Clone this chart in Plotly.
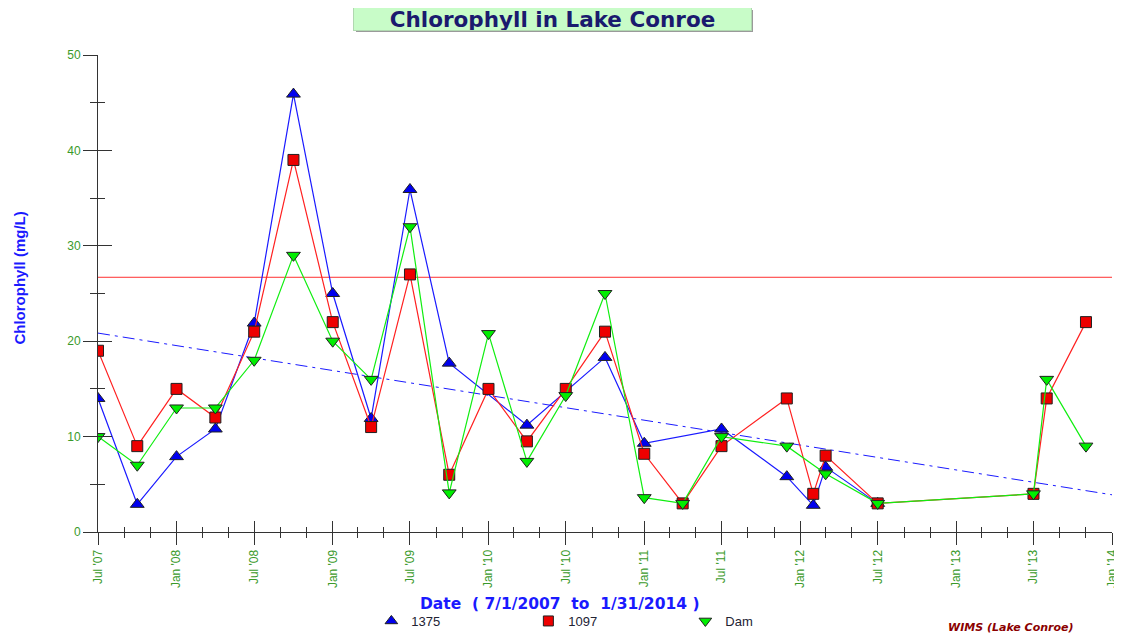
import plotly.graph_objects as go

# ---------------- data ----------------
dates_1375 = ["2007-07-01", "2007-10-01", "2008-01-01", "2008-04-01", "2008-07-01",
              "2008-10-01", "2009-01-01", "2009-04-01", "2009-07-01", "2009-10-01",
              "2010-04-01", "2010-10-01", "2011-01-01", "2011-07-01",
              "2011-12-01", "2012-02-01", "2012-03-01", "2012-07-01"]
vals_1375 = [14, 2.9, 7.9, 10.8, 21.9, 45.9, 25, 11.9, 35.9, 17.7,
             11.2, 18.3, 9.3, 10.8, 5.8, 2.8, 6.8, 3]

dates_1097 = ["2007-07-01", "2007-10-01", "2008-01-01", "2008-04-01", "2008-07-01",
              "2008-10-01", "2009-01-01", "2009-04-01", "2009-07-01", "2009-10-01",
              "2010-01-01", "2010-04-01", "2010-07-01", "2010-10-01", "2011-01-01",
              "2011-04-01", "2011-07-01", "2011-12-01", "2012-02-01", "2012-03-01",
              "2012-07-01", "2013-07-01", "2013-08-01", "2013-11-01"]
vals_1097 = [19, 9, 15, 12, 21, 39, 22, 11, 27, 6,
             15, 9.5, 15, 21, 8.2, 3, 9, 14, 4, 8,
             3, 4, 14, 22]

dates_dam = ["2007-07-01", "2007-10-01", "2008-01-01", "2008-04-01", "2008-07-01",
             "2008-10-01", "2009-01-01", "2009-04-01", "2009-07-01", "2009-10-01",
             "2010-01-01", "2010-04-01", "2010-07-01", "2010-10-01", "2011-01-01",
             "2011-04-01", "2011-07-01", "2011-12-01", "2012-03-01", "2012-07-01",
             "2013-07-01", "2013-08-01", "2013-11-01"]
vals_dam = [10, 7, 13, 13, 18, 29, 20, 16, 32, 4.1,
            20.8, 7.4, 14.3, 25, 3.6, 3, 10, 9, 6.1, 3,
            4, 16, 9]

trend_dates = ["2007-07-01", "2014-01-01"]
trend_vals = [20.85, 3.9]

threshold = 26.7

x_range = ["2007-07-01", "2014-01-01"]
y_range = [0, 50]

series_names = ["1375", "1097", "Dam"]

# ---------------- layout constants ----------------
# the page body adds an 8px offset; the figure is shrunk so the result fills 1122x637
OFF = 8
W, H = 1122 - OFF, 637 - OFF
PL, PT, PR, PB = 97.5, 55, 1112, 532          # plot area in page pixels
L, T = PL - OFF, PT - OFF
R, B = 1122 - PR, 637 - PB
PW, PH = PR - PL, PB - PT


def px(x):
    return (x - PL) / PW


def py(y):
    return (PB - y) / PH


FONT = "Liberation Sans, Arial, sans-serif"
WIDE = "DejaVu Sans, Verdana, sans-serif"
TICKC = "#333333"
LBLC = "#3a9a2a"
NB = "\u00a0"

fig = go.Figure()

# trend line
fig.add_trace(go.Scatter(x=trend_dates, y=trend_vals, mode="lines",
                         line=dict(color="#1a1aff", width=1, dash="12px,5px,3px,5px"),
                         showlegend=False, hoverinfo="skip"))

# threshold line
fig.add_hline(y=threshold, line=dict(color="#ff3030", width=1), layer="below")

mk_line = dict(color="#202020", width=1)
fig.add_trace(go.Scatter(x=dates_1375, y=vals_1375, mode="lines+markers", name=series_names[0],
                         line=dict(color="#1a1aff", width=1.2),
                         marker=dict(symbol="triangle-up", size=12, color="#0000ee", line=mk_line),
                         showlegend=False))
fig.add_trace(go.Scatter(x=dates_1097, y=vals_1097, mode="lines+markers", name=series_names[1],
                         line=dict(color="#ff2020", width=1.2),
                         marker=dict(symbol="square", size=11, color="#ee0000", line=mk_line),
                         showlegend=False))
fig.add_trace(go.Scatter(x=dates_dam, y=vals_dam, mode="lines+markers", name=series_names[2],
                         line=dict(color="#10ee10", width=1.2),
                         marker=dict(symbol="triangle-down", size=12, color="#00ee00", line=mk_line),
                         showlegend=False))

# legend-only entries (markers only)
for nm, sym, col, sz in [(series_names[0], "triangle-up", "#0000ee", 11),
                         (series_names[1], "square", "#ee0000", 10),
                         (series_names[2], "triangle-down", "#00ee00", 11)]:
    fig.add_trace(go.Scatter(x=[None], y=[None], mode="markers", name=nm,
                             marker=dict(symbol=sym, size=sz, color=col, line=mk_line),
                             showlegend=True))

# dummy trace for overlay axes (inside ticks)
fig.add_trace(go.Scatter(x=[None], y=[None], xaxis="x2", yaxis="y2", showlegend=False,
                         hoverinfo="skip"))

fig.update_layout(
    width=W, height=H, autosize=False,
    margin=dict(l=L, r=R, t=T, b=B, pad=0, autoexpand=False),
    paper_bgcolor="white", plot_bgcolor="white",
    font=dict(family=FONT, size=11, color="#333333"),
    xaxis=dict(type="date", range=x_range, showgrid=False, zeroline=False, automargin=False,
               showline=True, linecolor=TICKC, linewidth=1,
               ticks="outside", ticklen=12, tickwidth=1, tickcolor=TICKC,
               dtick="M6", tick0="2007-07-01", tickformat="%b '%y", tickangle=-90,
               tickfont=dict(family=FONT, size=12, color=LBLC),
               minor=dict(dtick="M2", tick0="2007-07-01", ticks="outside", ticklen=5,
                          tickwidth=1, tickcolor=TICKC, showgrid=False)),
    yaxis=dict(range=y_range, showgrid=False, zeroline=False, automargin=False,
               showline=True, linecolor=TICKC, linewidth=1,
               ticks="outside", ticklen=14, tickwidth=1, tickcolor=TICKC,
               dtick=10, tick0=0,
               tickfont=dict(family=FONT, size=12, color=LBLC),
               minor=dict(dtick=5, tick0=0, ticks="outside", ticklen=7,
                          tickwidth=1, tickcolor=TICKC, showgrid=False)),
    xaxis2=dict(type="date", range=x_range, overlaying="x", anchor="y2", side="bottom",
                automargin=False,
                showgrid=False, zeroline=False, showline=False, showticklabels=False,
                ticks="inside", ticklen=11, tickwidth=1, tickcolor=TICKC,
                dtick="M6", tick0="2007-07-01",
                minor=dict(dtick="M2", tick0="2007-07-01", ticks="inside", ticklen=5,
                           tickwidth=1, tickcolor=TICKC, showgrid=False)),
    yaxis2=dict(range=y_range, overlaying="y", anchor="x2", side="left",
                automargin=False,
                showgrid=False, zeroline=False, showline=False, showticklabels=False,
                ticks="inside", ticklen=14, tickwidth=1, tickcolor=TICKC,
                dtick=10, tick0=0,
                minor=dict(dtick=5, tick0=0, ticks="inside", ticklen=7,
                           tickwidth=1, tickcolor=TICKC, showgrid=False)),
    legend=dict(orientation="h", x=px(371), y=py(606), xanchor="left", yanchor="top",
                entrywidth=112, entrywidthmode="pixels", itemwidth=30,
                font=dict(family=FONT, size=13, color="#222233"),
                bgcolor="rgba(0,0,0,0)", tracegroupgap=0),
    showlegend=True,
)

# title box with shadow
fig.add_annotation(x=px(554.5), y=py(21), xref="paper", yref="paper",
                   xanchor="center", yanchor="middle",
                   text=" ", showarrow=False, width=397, height=22,
                   bgcolor="#9a9a9a", borderwidth=0, borderpad=0)
fig.add_annotation(x=px(552.5), y=py(19), xref="paper", yref="paper",
                   xanchor="center", yanchor="middle",
                   text="<b>Chlorophyll in Lake Conroe</b>", showarrow=False,
                   width=397, height=22, bgcolor="#c8fcc8", bordercolor="#b0d8b0",
                   borderwidth=1, borderpad=0,
                   font=dict(family=WIDE, size=21.5, color="#1a1a6e"))

# axis titles
fig.add_annotation(x=px(18), y=py(278), xref="paper", yref="paper",
                   xanchor="center", yanchor="middle",
                   text="<b>Chlorophyll (mg/L)</b>", textangle=-90, showarrow=False,
                   font=dict(family=FONT, size=15, color="#1a1aff"))
fig.add_annotation(x=px(560), y=py(604), xref="paper", yref="paper",
                   xanchor="center", yanchor="middle",
                   text="<b>Date" + NB * 2 + "(" + NB + "7/1/2007" + NB * 2 + "to" + NB * 2
                        + "1/31/2014" + NB + ")</b>",
                   showarrow=False,
                   font=dict(family=WIDE, size=15.5, color="#1a1aff"))

# source note
fig.add_annotation(x=px(1011), y=py(627), xref="paper", yref="paper",
                   xanchor="center", yanchor="middle",
                   text="WIMS (Lake Conroe)", showarrow=False,
                   font=dict(family=WIDE, size=11, color="#8b0000", weight="bold", style="italic"))

fig.write_html("out.html")
